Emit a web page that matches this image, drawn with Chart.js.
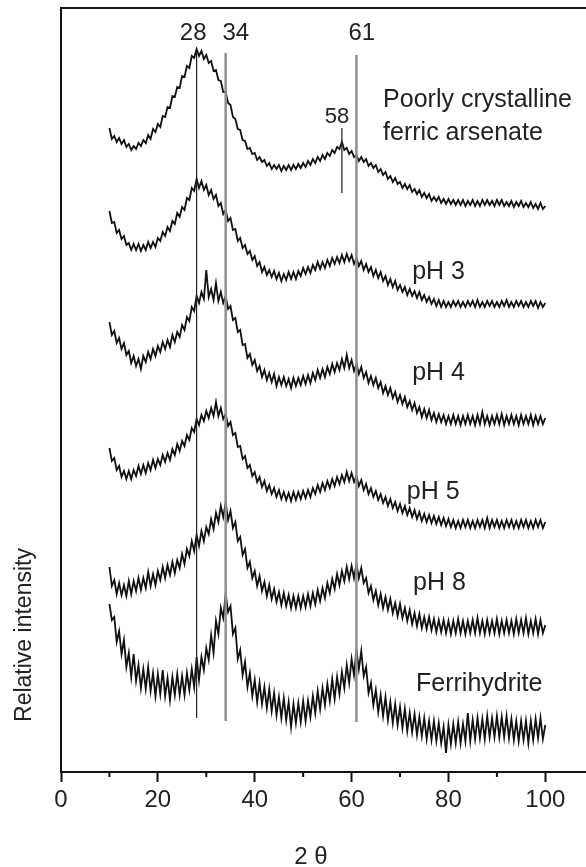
<!DOCTYPE html>
<html>
<head>
<meta charset="utf-8">
<script src="https://cdn.jsdelivr.net/npm/chart.js@4.4.0/dist/chart.umd.min.js"></script>
<style>
    html, body { margin: 0; padding: 0; background: #fff; overflow: hidden; }
    #wrap { width: 586px; height: 867px; }
</style>
</head>
<body>
<div id="wrap"><canvas id="xrdChart" width="586" height="867"></canvas></div>
<script>
// 2-theta sampling grid, 10..100 deg every 0.5 deg
const twoTheta = Array.from({ length: 181 }, (_, i) => 10 + i * 0.5);

// intensities (arbitrary units, traces already stacked)
const ferricArsenate = [
    644,633,636,630,634,628,632,625,628,622,
    626,623,629,626,632,629,637,633,643,640,
    648,645,656,655,665,664,676,675,685,684,
    696,695,706,704,716,714,723,716,721,713,
    717,709,711,701,702,692,691,680,680,669,
    667,655,653,643,642,632,631,623,624,618,
    619,612,615,610,612,606,609,603,607,603,
    607,601,606,602,607,602,607,603,608,604,
    609,605,611,607,613,609,615,611,617,613,
    619,616,622,619,625,623,630,622,624,618,
    621,615,617,611,615,610,613,606,609,604,
    607,600,603,597,600,593,596,590,594,588,
    590,584,588,583,587,580,583,578,582,575,
    579,574,578,571,575,571,575,569,573,568,
    573,568,572,567,572,567,572,566,571,567,
    572,566,571,566,572,567,572,567,571,566,
    572,567,572,566,570,566,571,565,570,566,
    571,565,569,565,570,564,568,563,569,563,
    566
];
const pH3 = [
    561,549,550,539,542,533,536,527,529,522,
    528,522,528,521,527,522,530,524,530,525,
    534,531,540,536,545,541,551,548,559,555,
    565,562,574,572,584,581,593,584,591,582,
    587,577,582,573,577,566,569,558,562,551,
    554,542,543,531,534,524,527,518,521,512,
    516,506,510,500,505,497,502,495,501,493,
    499,491,498,492,500,493,500,493,501,496,
    504,498,505,499,507,502,510,503,510,504,
    512,506,514,508,515,509,517,510,518,511,
    517,508,514,506,511,502,508,500,505,496,
    502,494,500,491,496,487,493,485,491,482,
    487,480,485,477,483,476,481,474,480,472,
    477,470,475,468,473,466,472,465,471,465,
    470,465,471,466,471,465,470,465,471,466,
    471,465,472,465,470,465,471,466,471,465,
    470,465,471,466,472,465,470,465,471,466,
    471,465,470,465,471,466,471,464,470,465,
    469
];
const pH4 = [
    450,437,441,429,434,423,429,417,421,409,
    416,406,413,403,416,410,420,413,423,416,
    426,420,430,423,432,425,437,430,440,435,
    447,442,455,451,465,461,476,469,480,473,
    502,475,483,472,489,471,480,469,476,463,
    466,452,454,440,442,427,428,414,418,407,
    412,401,406,395,402,392,399,390,398,386,
    395,387,395,386,393,384,394,386,394,387,
    396,388,397,389,399,392,402,394,403,395,
    405,398,408,400,409,402,413,404,417,404,
    412,401,408,398,405,394,400,389,396,387,
    394,384,390,379,386,377,384,374,380,370,
    377,368,375,365,371,362,369,359,365,355,
    363,354,362,352,359,350,358,350,357,348,
    356,348,357,348,356,347,356,348,357,348,
    356,347,357,348,360,348,356,347,356,348,
    357,348,358,347,356,348,357,348,356,347,
    357,348,356,348,357,347,356,348,356,348,
    354
];
const pH5 = [
    324,311,314,302,306,295,301,293,301,293,
    302,296,306,298,307,299,309,302,312,304,
    313,307,317,310,319,312,323,317,328,321,
    331,326,337,332,344,340,353,347,357,351,
    361,354,364,356,370,356,364,353,358,346,
    350,337,339,325,326,313,316,304,307,296,
    300,290,295,285,291,281,287,278,284,275,
    282,273,280,272,279,271,280,272,280,273,
    281,274,282,275,284,278,287,280,289,282,
    291,284,293,286,295,288,297,290,300,291,
    299,290,296,286,292,282,288,278,284,275,
    281,272,278,269,275,266,273,264,270,261,
    268,259,266,257,264,255,262,253,260,251,
    258,250,257,249,256,248,255,247,254,246,
    253,245,252,244,251,244,252,245,252,244,
    251,244,252,245,252,244,254,244,252,245,
    252,244,251,244,252,245,252,244,251,244,
    252,245,252,244,251,244,252,245,252,244,
    250
];
const pH8 = [
    205,186,192,178,189,177,187,176,191,178,
    191,181,194,182,194,184,200,186,198,187,
    201,192,205,194,207,197,210,199,212,204,
    218,208,223,216,231,221,237,226,241,231,
    245,238,253,243,259,250,266,255,269,252,
    261,244,250,231,235,217,223,204,210,194,
    201,186,196,181,190,176,187,173,183,170,
    180,167,179,166,177,164,176,164,176,164,
    176,165,178,166,179,168,182,171,184,174,
    189,179,193,183,198,187,201,191,205,193,
    206,194,208,194,204,189,194,179,186,172,
    181,167,178,164,175,162,173,159,169,156,
    168,154,164,151,162,148,159,146,158,144,
    155,143,155,142,153,140,152,140,152,139,
    151,138,151,139,153,139,151,138,151,139,
    152,139,154,139,151,138,152,139,151,139,
    153,138,151,139,152,139,151,138,153,139,
    152,139,154,138,151,139,153,138,152,139,
    147
];
const ferrihydrite = [
    168,152,155,130,141,118,132,105,119,95,
    118,91,107,84,103,83,105,81,99,76,
    98,78,102,76,94,72,95,77,98,77,
    96,77,99,82,103,85,115,92,115,102,
    124,112,137,119,151,138,164,154,178,160,
    166,138,144,113,122,97,110,85,99,76,
    92,70,89,68,85,64,83,61,79,57,
    75,54,74,52,70,45,68,49,69,50,
    71,51,71,55,76,59,81,63,84,67,
    88,71,93,73,95,78,100,84,107,89,
    113,97,122,103,121,96,105,79,89,67,
    82,60,77,56,75,52,70,49,68,47,
    65,44,63,41,59,40,58,37,55,36,
    54,33,51,32,51,31,49,29,45,19,
    47,28,48,29,50,29,48,31,59,31,
    52,33,54,34,53,33,56,35,54,35,
    56,35,55,35,56,34,53,32,51,31,
    51,32,51,29,51,32,53,34,54,33,
    47
];

const traces = [ferricArsenate, pH3, pH4, pH5, pH8, ferrihydrite];

// reference peak positions and the intensity span of each marker line
const markerAngles = [28, 34, 61, 58];
const markerTop = [720, 719, 717, 644];
const markerBottom = [54, 51, 50, 579];
const markerNames = ['28', '34', '61', '58'];

const sampleNames = ['Poorly crystalline', 'ferric arsenate', 'pH 3', 'pH 4', 'pH 5', 'pH 8', 'Ferrihydrite'];
const xTicks = [0, 20, 40, 60, 80, 100];
const xMinorTicks = [10, 30, 50, 70, 90];

Chart.defaults.font.family = "'Liberation Sans', Arial, Helvetica, sans-serif";
Chart.defaults.color = '#222';

const datasets = [];
traces.forEach(values => {
    datasets.push({
        data: values.map((v, i) => ({ x: twoTheta[i], y: v })),
        borderColor: '#111',
        borderWidth: 1.8,
        pointRadius: 0,
        tension: 0,
        order: 2
    });
});
markerAngles.forEach((a, i) => {
    const grey = (a === 34 || a === 61);
    datasets.push({
        data: [{ x: a, y: markerBottom[i] }, { x: a, y: markerTop[i] }],
        borderColor: grey ? '#8f8f8f' : '#222',
        borderWidth: grey ? 2.5 : 1.2,
        pointRadius: 0,
        order: 1
    });
});

// text placed in data units: [text, 2theta, intensity, align, size]
const textItems = [
    [markerNames[0], 27.3, 739, 'center', 24],
    [markerNames[1], 36.1, 739, 'center', 24],
    [markerNames[2], 62.1, 739, 'center', 24],
    [markerNames[3], 57.0, 655, 'center', 22],
    [sampleNames[0], 66.5, 672, 'left', 25],
    [sampleNames[1], 66.5, 639, 'left', 25],
    [sampleNames[2], 72.5, 500, 'left', 25],
    [sampleNames[3], 72.5, 399, 'left', 25],
    [sampleNames[4], 71.4, 280, 'left', 25],
    [sampleNames[5], 72.7, 189, 'left', 25],
    [sampleNames[6], 73.3, 88, 'left', 25]
];

const xrdAnnotations = {
    id: 'xrdAnnotations',
    afterDraw(chart) {
        const ctx = chart.ctx;
        const xs = chart.scales.x;
        const ys = chart.scales.y;
        const area = chart.chartArea;
        ctx.save();
        ctx.strokeStyle = '#111';
        ctx.lineWidth = 2;
        ctx.beginPath();
        ctx.moveTo(area.left - 1, area.top);
        ctx.lineTo(area.right, area.top);
        ctx.stroke();

        xMinorTicks.forEach(v => {
            const px = xs.getPixelForValue(v);
            ctx.beginPath();
            ctx.moveTo(px, area.bottom);
            ctx.lineTo(px, area.bottom + 5);
            ctx.stroke();
        });

        ctx.fillStyle = '#222';
        ctx.textBaseline = 'middle';
        textItems.forEach(t => {
            ctx.font = t[4] + "px 'Liberation Sans', Arial, sans-serif";
            ctx.textAlign = t[3];
            ctx.fillText(t[0], xs.getPixelForValue(t[1]), ys.getPixelForValue(t[2]));
        });

        // axis titles
        ctx.font = "23px 'Liberation Sans', Arial, sans-serif";
        ctx.textAlign = 'center';
        ctx.save();
        ctx.translate(25, ys.getPixelForValue(137));
        ctx.rotate(-Math.PI / 2);
        ctx.fillText('Relative intensity', 0, 0);
        ctx.restore();
        ctx.font = "24px 'Liberation Sans', Arial, sans-serif";
        ctx.fillText('2 \u03b8', xs.getPixelForValue(51.6), area.bottom + 85);
        ctx.restore();
    }
};

const config = {
    type: 'line',
    data: { datasets: datasets },
    options: {
        responsive: false,
        animation: false,
        devicePixelRatio: 1,
        layout: { padding: { top: 8, right: 0, left: 0, bottom: 0 } },
        plugins: {
            legend: { display: false },
            tooltip: { enabled: false },
            title: { display: false }
        },
        scales: {
            x: {
                type: 'linear',
                min: 0,
                max: 108.4,
                afterFit: scale => { scale.height = 95; },
                afterBuildTicks: scale => { scale.ticks = xTicks.map(v => ({ value: v })); },
                ticks: {
                    font: { size: 24 },
                    color: '#222',
                    padding: 4,
                    maxRotation: 0
                },
                grid: {
                    drawOnChartArea: false,
                    drawTicks: true,
                    tickLength: 10,
                    tickWidth: 2,
                    tickColor: '#111'
                },
                border: { display: true, color: '#111', width: 2 }
            },
            y: {
                type: 'linear',
                min: 0,
                max: 764,
                afterFit: scale => { scale.width = 61; },
                ticks: { display: false },
                grid: { display: false, drawTicks: false },
                border: { display: true, color: '#111', width: 2 }
            }
        }
    },
    plugins: [xrdAnnotations]
};

new Chart(document.getElementById('xrdChart').getContext('2d'), config);
</script>
</body>
</html>
